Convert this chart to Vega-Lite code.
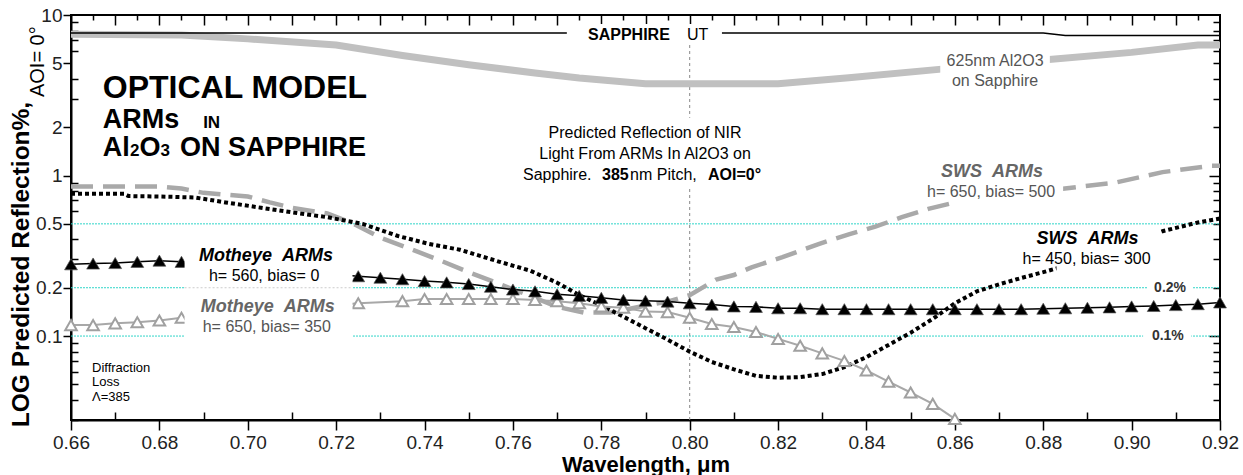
{
  "$schema": "https://vega.github.io/schema/vega-lite/v6.json",
  "width": 1149,
  "height": 405,
  "autosize": {"type": "none"},
  "padding": {"left": 71, "top": 15, "right": 23, "bottom": 55},
  "background": "white",
  "config": {
    "font": "Liberation Sans",
    "view": {"stroke": "black", "strokeWidth": 2},
    "axis": {
      "domainColor": "black", "domainWidth": 2, "tickColor": "black", "tickWidth": 1.5,
      "labelFont": "Liberation Sans", "labelFontSize": 19, "labelColor": "#222",
      "titleFont": "Liberation Sans", "titleFontWeight": "bold", "titleColor": "black",
      "grid": false, "labelOverlap": false, "labelFlush": false, "labelBound": false
    }
  },
  "datasets": {
    "hl": [{"wl": 0.66, "wl2": 0.92, "R": 0.5}, {"wl": 0.66, "wl2": 0.92, "R": 0.2}, {"wl": 0.66, "wl2": 0.92, "R": 0.1}],
    "vl": [{"wl": 0.8, "R": 0.03, "R2": 6.5}],
    "faint": [{"wl": 0.6857, "wl2": 0.7237, "R": 0.2}],
    "al2o3": [
      {"wl": 0.66, "R": 7.6}, {"wl": 0.685, "R": 7.5}, {"wl": 0.70, "R": 7.1}, {"wl": 0.72, "R": 6.5},
      {"wl": 0.735, "R": 5.6}, {"wl": 0.75, "R": 4.9}, {"wl": 0.765, "R": 4.35}, {"wl": 0.775, "R": 4.05},
      {"wl": 0.79, "R": 3.73}, {"wl": 0.82, "R": 3.73}, {"wl": 0.836, "R": 4.07}, {"wl": 0.857, "R": 4.6},
      {"wl": 0.88, "R": 5.25}, {"wl": 0.90, "R": 5.85}, {"wl": 0.915, "R": 6.5}, {"wl": 0.92, "R": 6.5}
    ],
    "sapphire": [{"wl": 0.66, "R": 7.73}, {"wl": 0.88, "R": 7.73}, {"wl": 0.885, "R": 7.45}, {"wl": 0.92, "R": 7.45}],
    "sws500": [
      {"wl": 0.66, "R": 0.855}, {"wl": 0.68, "R": 0.855}, {"wl": 0.685, "R": 0.83}, {"wl": 0.69, "R": 0.78},
      {"wl": 0.70, "R": 0.74}, {"wl": 0.705, "R": 0.68}, {"wl": 0.71, "R": 0.63}, {"wl": 0.718, "R": 0.58},
      {"wl": 0.724, "R": 0.50}, {"wl": 0.73, "R": 0.41}, {"wl": 0.736, "R": 0.356}, {"wl": 0.743, "R": 0.30},
      {"wl": 0.75, "R": 0.25}, {"wl": 0.756, "R": 0.216}, {"wl": 0.763, "R": 0.182}, {"wl": 0.77, "R": 0.152},
      {"wl": 0.776, "R": 0.14}, {"wl": 0.782, "R": 0.14}, {"wl": 0.784, "R": 0.143}, {"wl": 0.79, "R": 0.155},
      {"wl": 0.795, "R": 0.164}, {"wl": 0.80, "R": 0.18}, {"wl": 0.806, "R": 0.225}, {"wl": 0.81, "R": 0.24},
      {"wl": 0.814, "R": 0.268}, {"wl": 0.821, "R": 0.31}, {"wl": 0.829, "R": 0.373}, {"wl": 0.836, "R": 0.43},
      {"wl": 0.842, "R": 0.48}, {"wl": 0.848, "R": 0.55}, {"wl": 0.854, "R": 0.62}, {"wl": 0.86, "R": 0.68},
      {"wl": 0.87, "R": 0.75}, {"wl": 0.88, "R": 0.80}, {"wl": 0.888, "R": 0.85}, {"wl": 0.896, "R": 0.90},
      {"wl": 0.907, "R": 1.05}, {"wl": 0.918, "R": 1.15}, {"wl": 0.92, "R": 1.15}
    ],
    "sws300": [
      {"wl": 0.66, "R": 0.77}, {"wl": 0.672, "R": 0.77}, {"wl": 0.673, "R": 0.745}, {"wl": 0.68, "R": 0.74},
      {"wl": 0.688, "R": 0.73}, {"wl": 0.695, "R": 0.68}, {"wl": 0.703, "R": 0.63}, {"wl": 0.71, "R": 0.59},
      {"wl": 0.718, "R": 0.55}, {"wl": 0.726, "R": 0.50}, {"wl": 0.734, "R": 0.42}, {"wl": 0.741, "R": 0.375},
      {"wl": 0.748, "R": 0.345}, {"wl": 0.757, "R": 0.29}, {"wl": 0.764, "R": 0.255}, {"wl": 0.77, "R": 0.215},
      {"wl": 0.775, "R": 0.18}, {"wl": 0.78, "R": 0.155}, {"wl": 0.785, "R": 0.132}, {"wl": 0.79, "R": 0.112},
      {"wl": 0.795, "R": 0.095}, {"wl": 0.80, "R": 0.08}, {"wl": 0.805, "R": 0.069}, {"wl": 0.81, "R": 0.062},
      {"wl": 0.815, "R": 0.0565}, {"wl": 0.82, "R": 0.055}, {"wl": 0.825, "R": 0.0555}, {"wl": 0.83, "R": 0.058},
      {"wl": 0.835, "R": 0.064}, {"wl": 0.84, "R": 0.074}, {"wl": 0.845, "R": 0.088}, {"wl": 0.85, "R": 0.105},
      {"wl": 0.855, "R": 0.128}, {"wl": 0.86, "R": 0.16}, {"wl": 0.865, "R": 0.19}, {"wl": 0.87, "R": 0.21},
      {"wl": 0.875, "R": 0.23}, {"wl": 0.88, "R": 0.25}, {"wl": 0.89, "R": 0.30}, {"wl": 0.90, "R": 0.38},
      {"wl": 0.907, "R": 0.45}, {"wl": 0.915, "R": 0.51}, {"wl": 0.92, "R": 0.54}
    ],
    "moth0": [
      {"wl": 0.66, "R": 0.28}, {"wl": 0.665, "R": 0.283}, {"wl": 0.67, "R": 0.285}, {"wl": 0.675, "R": 0.29},
      {"wl": 0.68, "R": 0.295}, {"wl": 0.685, "R": 0.29}, {"wl": 0.725, "R": 0.236}, {"wl": 0.73, "R": 0.231},
      {"wl": 0.735, "R": 0.226}, {"wl": 0.74, "R": 0.22}, {"wl": 0.745, "R": 0.216}, {"wl": 0.75, "R": 0.211},
      {"wl": 0.755, "R": 0.203}, {"wl": 0.76, "R": 0.195}, {"wl": 0.765, "R": 0.19}, {"wl": 0.77, "R": 0.182},
      {"wl": 0.775, "R": 0.178}, {"wl": 0.78, "R": 0.173}, {"wl": 0.785, "R": 0.168}, {"wl": 0.79, "R": 0.166},
      {"wl": 0.795, "R": 0.164}, {"wl": 0.80, "R": 0.16}, {"wl": 0.805, "R": 0.157}, {"wl": 0.81, "R": 0.153},
      {"wl": 0.815, "R": 0.152}, {"wl": 0.82, "R": 0.149}, {"wl": 0.825, "R": 0.149}, {"wl": 0.83, "R": 0.147},
      {"wl": 0.835, "R": 0.147}, {"wl": 0.84, "R": 0.147}, {"wl": 0.845, "R": 0.147}, {"wl": 0.85, "R": 0.147},
      {"wl": 0.855, "R": 0.147}, {"wl": 0.86, "R": 0.147}, {"wl": 0.865, "R": 0.147}, {"wl": 0.87, "R": 0.147},
      {"wl": 0.875, "R": 0.147}, {"wl": 0.88, "R": 0.148}, {"wl": 0.885, "R": 0.149}, {"wl": 0.89, "R": 0.15},
      {"wl": 0.895, "R": 0.151}, {"wl": 0.90, "R": 0.153}, {"wl": 0.905, "R": 0.154}, {"wl": 0.91, "R": 0.156},
      {"wl": 0.915, "R": 0.158}, {"wl": 0.92, "R": 0.162}
    ],
    "moth350": [
      {"wl": 0.66, "R": 0.117}, {"wl": 0.665, "R": 0.117}, {"wl": 0.67, "R": 0.12}, {"wl": 0.675, "R": 0.122},
      {"wl": 0.68, "R": 0.125}, {"wl": 0.685, "R": 0.13}, {"wl": 0.725, "R": 0.16}, {"wl": 0.735, "R": 0.165},
      {"wl": 0.74, "R": 0.17}, {"wl": 0.745, "R": 0.17}, {"wl": 0.75, "R": 0.17}, {"wl": 0.755, "R": 0.17},
      {"wl": 0.76, "R": 0.17}, {"wl": 0.765, "R": 0.168}, {"wl": 0.77, "R": 0.165}, {"wl": 0.775, "R": 0.16},
      {"wl": 0.78, "R": 0.153}, {"wl": 0.785, "R": 0.15}, {"wl": 0.79, "R": 0.142}, {"wl": 0.795, "R": 0.141},
      {"wl": 0.80, "R": 0.13}, {"wl": 0.805, "R": 0.119}, {"wl": 0.81, "R": 0.114}, {"wl": 0.815, "R": 0.106},
      {"wl": 0.82, "R": 0.096}, {"wl": 0.825, "R": 0.087}, {"wl": 0.83, "R": 0.078}, {"wl": 0.835, "R": 0.07},
      {"wl": 0.84, "R": 0.061}, {"wl": 0.845, "R": 0.052}, {"wl": 0.85, "R": 0.0445}, {"wl": 0.855, "R": 0.0378},
      {"wl": 0.86, "R": 0.0305}
    ],
    "masks": [
      {"wl": 0.6857, "wl2": 0.7237, "R": 0.089, "R2": 0.40},
      {"wl": 0.7616, "wl2": 0.8166, "R": 0.855, "R2": 2.29},
      {"wl": 0.7722, "wl2": 0.8073, "R": 6.8, "R2": 8.79},
      {"wl": 0.8567, "wl2": 0.8815, "R": 3.18, "R2": 6.06},
      {"wl": 0.8605, "wl2": 0.8845, "R": 0.66, "R2": 1.29},
      {"wl": 0.883, "wl2": 0.9065, "R": 0.245, "R2": 0.46},
      {"wl": 0.9035, "wl2": 0.9139, "R": 0.19, "R2": 0.21},
      {"wl": 0.9026, "wl2": 0.9135, "R": 0.095, "R2": 0.105}
    ],
    "t32": [{"wl": 0.6672, "R": 3.05, "text": "OPTICAL MODEL"}],
    "t27": [
      {"wl": 0.6672, "R": 1.99, "text": "ARMs"}, {"wl": 0.6672, "R": 1.318, "text": "Al"},
      {"wl": 0.6755, "R": 1.318, "text": "O"}, {"wl": 0.68467, "R": 1.318, "text": "ON SAPPHIRE"}
    ],
    "t17": [
      {"wl": 0.6899, "R": 1.99, "text": "IN"}, {"wl": 0.67335, "R": 1.318, "text": "2"}, {"wl": 0.68025, "R": 1.318, "text": "3"}
    ],
    "mid16c": [
      {"wl": 0.7899, "R": 1.72, "text": "Predicted Reflection of NIR"},
      {"wl": 0.7899, "R": 1.275, "text": "Light From ARMs In Al2O3 on"}
    ],
    "mid16l": [
      {"wl": 0.76229, "R": 0.944, "text": "Sapphire."}, {"wl": 0.7865, "R": 0.944, "text": "nm Pitch,"},
      {"wl": 0.7994, "R": 6.99, "text": "UT"}
    ],
    "mid16b": [
      {"wl": 0.78016, "R": 0.944, "text": "385"}, {"wl": 0.80415, "R": 0.944, "text": "AOI=0°"},
      {"wl": 0.777, "R": 6.99, "text": "SAPPHIRE"}
    ],
    "grayLab": [
      {"wl": 0.8691, "R": 4.82, "text": "625nm Al2O3"}, {"wl": 0.8691, "R": 3.62, "text": "on Sapphire"},
      {"wl": 0.8682, "R": 0.73, "text": "h= 650, bias= 500"}, {"wl": 0.7043, "R": 0.106, "text": "h= 650, bias= 350"}
    ],
    "grayBI": [
      {"wl": 0.8684, "R": 0.986, "text": "SWS\u00a0\u00a0ARMs"}, {"wl": 0.7045, "R": 0.141, "text": "Motheye\u00a0\u00a0ARMs"}
    ],
    "blackBI": [
      {"wl": 0.89, "R": 0.373, "text": "SWS\u00a0\u00a0ARMs"}, {"wl": 0.7041, "R": 0.292, "text": "Motheye\u00a0\u00a0ARMs"}
    ],
    "blackLab": [
      {"wl": 0.8898, "R": 0.28, "text": "h= 450, bias= 300"}, {"wl": 0.7037, "R": 0.22, "text": "h= 560, bias= 0"}
    ],
    "pct": [{"wl": 0.9087, "R": 0.2, "text": "0.2%"}, {"wl": 0.9082, "R": 0.1, "text": "0.1%"}],
    "small": [
      {"wl": 0.66475, "R": 0.0598, "text": "Diffraction"}, {"wl": 0.66475, "R": 0.0489, "text": "Loss"},
      {"wl": 0.66475, "R": 0.0395, "text": "Λ=385"}
    ],
    "aoi": [{"wl": 0.65242, "R": 5.12, "text": "AOI= 0°"}]
  },
  "encoding": {
    "x": {"field": "wl", "type": "quantitative", "scale": {"domain": [0.66, 0.92], "nice": false, "zero": false}, "axis": null},
    "y": {"field": "R", "type": "quantitative", "scale": {"type": "log", "domain": [0.03, 10], "nice": false}, "axis": null}
  },
  "layer": [
    {
      "data": {"name": "hl"},
      "mark": {"type": "rule", "color": "#30d5c8", "strokeWidth": 1, "strokeDash": [2, 1]},
      "encoding": {
        "x": {"field": "wl", "type": "quantitative", "scale": {"domain": [0.66, 0.92], "nice": false, "zero": false},
          "axis": {"orient": "bottom",
            "values": [0.66,0.68,0.7,0.72,0.74,0.76,0.78,0.8,0.82,0.84,0.86,0.88,0.9,0.92],
            "format": ".2f", "tickSize": 10,
            "labelPadding": 3, "title": "Wavelength, μm", "titleFontSize": 22, "titlePadding": 2}},
        "x2": {"field": "wl2"},
        "y": {"field": "R", "type": "quantitative", "scale": {"type": "log", "domain": [0.03, 10], "nice": false},
          "axis": {"orient": "left",
            "values": [0.1,0.2,0.5,1,2,5,10],
            "labelExpr": "datum.value >= 1 ? format(datum.value,'d') : format(datum.value,'.1f')",
            "tickSize": 8,
            "labelPadding": 1, "title": "LOG Predicted Reflection%,", "titleFontSize": 24.5,
            "titleX": -43, "titleY": 249, "titleAngle": 270, "titleAlign": "center", "titleBaseline": "alphabetic"}}
      }
    },
    {
      "data": {"name": "vl"},
      "mark": {"type": "rule", "color": "#888", "strokeWidth": 1, "strokeDash": [3, 3]},
      "encoding": {
        "x": {"field": "wl", "type": "quantitative", "scale": {"domain": [0.66, 0.92], "nice": false, "zero": false},
          "axis": {"orient": "bottom", "values": [0.67,0.69,0.71,0.73,0.75,0.77,0.79,0.81,0.83,0.85,0.87,0.89,0.91],
            "labels": false, "title": null, "domain": false, "offset": -8, "tickSize": 8}},
        "y": {"field": "R", "type": "quantitative", "scale": {"type": "log", "domain": [0.03, 10], "nice": false},
          "axis": {"orient": "left", "values": [0.03,0.04,0.05,0.06,0.07,0.08,0.09,0.3,0.4,0.6,0.7,0.8,0.9,3,4,6,7,8,9],
            "labels": false, "title": null, "domain": false, "offset": -7, "tickSize": 7}},
        "y2": {"field": "R2"}
      }
    },
    {
      "data": {"name": "al2o3"},
      "mark": {"type": "line", "color": "#c0c0c0", "strokeWidth": 7, "strokeCap": "butt"},
      "encoding": {
        "x": {"field": "wl", "type": "quantitative", "scale": {"domain": [0.66, 0.92], "nice": false, "zero": false},
          "axis": {"orient": "top", "values": [0.67,0.68,0.69,0.7,0.71,0.72,0.73,0.74,0.75,0.76,0.77,0.78,0.79,0.8,0.81,0.82,0.83,0.84,0.85,0.86,0.87,0.88,0.89,0.9,0.91],
            "labels": false, "title": null, "domain": false, "offset": -10, "tickSize": 10}},
        "y": {"field": "R", "type": "quantitative", "scale": {"type": "log", "domain": [0.03, 10], "nice": false},
          "axis": {"orient": "right", "values": [0.1,1],
            "labels": false, "title": null, "domain": false, "offset": -11, "tickSize": 11}}
      }
    },
    {
      "data": {"name": "sapphire"},
      "mark": {"type": "line", "color": "black", "strokeWidth": 1.5},
      "encoding": {
        "x": {"field": "wl", "type": "quantitative", "scale": {"domain": [0.66, 0.92], "nice": false, "zero": false},
          "axis": {"orient": "top", "values": [0.665,0.675,0.685,0.695,0.705,0.715,0.725,0.735,0.745,0.755,0.765,0.775,0.785,0.795,0.805,0.815,0.825,0.835,0.845,0.855,0.865,0.875,0.885,0.895,0.905,0.915],
            "labels": false, "title": null, "domain": false, "offset": -5, "tickSize": 5}},
        "y": {"field": "R", "type": "quantitative", "scale": {"type": "log", "domain": [0.03, 10], "nice": false},
          "axis": {"orient": "right", "values": [0.04,0.05,0.06,0.07,0.08,0.09,0.2,0.3,0.4,0.5,0.6,0.7,0.8,0.9,2,3,4,5,6,7,8,9],
            "labels": false, "title": null, "domain": false, "offset": -7, "tickSize": 7}}
      }
    },
    {"data": {"name": "sws500"}, "mark": {"type": "line", "color": "#a9a9a9", "strokeWidth": 4.5, "strokeDash": [22, 10]}},
    {"data": {"name": "sws300"}, "mark": {"type": "line", "color": "black", "strokeWidth": 4, "strokeDash": [4, 3]}},
    {"data": {"name": "moth350"}, "mark": {"type": "line", "color": "#a8a8a8", "strokeWidth": 2}},
    {"data": {"name": "moth350"}, "mark": {"type": "point", "shape": "triangle-up", "filled": true, "fill": "white", "stroke": "#a0a0a0", "strokeWidth": 2, "size": 135, "opacity": 1}},
    {"data": {"name": "moth0"}, "mark": {"type": "line", "color": "black", "strokeWidth": 1.5}},
    {"data": {"name": "moth0"}, "mark": {"type": "point", "shape": "triangle-up", "filled": true, "fill": "black", "stroke": "#555", "strokeWidth": 0.7, "size": 165, "opacity": 1}},
    {"data": {"name": "masks"}, "mark": {"type": "rect", "fill": "white", "strokeWidth": 0}, "encoding": {"x2": {"field": "wl2"}, "y2": {"field": "R2"}}},
    {"data": {"name": "faint"}, "mark": {"type": "rule", "color": "#cccccc", "strokeWidth": 1, "strokeDash": [2, 2]}, "encoding": {"x2": {"field": "wl2"}}},
    {"data": {"name": "t32"}, "mark": {"type": "text", "fontSize": 32, "fontWeight": "bold", "align": "left", "baseline": "alphabetic", "color": "black"}, "encoding": {"text": {"field": "text"}}},
    {"data": {"name": "t27"}, "mark": {"type": "text", "fontSize": 27, "fontWeight": "bold", "align": "left", "baseline": "alphabetic", "color": "black"}, "encoding": {"text": {"field": "text"}}},
    {"data": {"name": "t17"}, "mark": {"type": "text", "fontSize": 17, "fontWeight": "bold", "align": "left", "baseline": "alphabetic", "color": "black"}, "encoding": {"text": {"field": "text"}}},
    {"data": {"name": "mid16c"}, "mark": {"type": "text", "fontSize": 16, "align": "center", "baseline": "alphabetic", "color": "black"}, "encoding": {"text": {"field": "text"}}},
    {"data": {"name": "mid16l"}, "mark": {"type": "text", "fontSize": 16, "align": "left", "baseline": "alphabetic", "color": "black"}, "encoding": {"text": {"field": "text"}}},
    {"data": {"name": "mid16b"}, "mark": {"type": "text", "fontSize": 16, "fontWeight": "bold", "align": "left", "baseline": "alphabetic", "color": "black"}, "encoding": {"text": {"field": "text"}}},
    {"data": {"name": "grayLab"}, "mark": {"type": "text", "fontSize": 16, "align": "center", "baseline": "alphabetic", "color": "#555"}, "encoding": {"text": {"field": "text"}}},
    {"data": {"name": "grayBI"}, "mark": {"type": "text", "fontSize": 18, "fontWeight": "bold", "fontStyle": "italic", "align": "center", "baseline": "alphabetic", "color": "#666"}, "encoding": {"text": {"field": "text"}}},
    {"data": {"name": "blackBI"}, "mark": {"type": "text", "fontSize": 18, "fontWeight": "bold", "fontStyle": "italic", "align": "center", "baseline": "alphabetic", "color": "black"}, "encoding": {"text": {"field": "text"}}},
    {"data": {"name": "blackLab"}, "mark": {"type": "text", "fontSize": 16, "align": "center", "baseline": "alphabetic", "color": "black"}, "encoding": {"text": {"field": "text"}}},
    {"data": {"name": "pct"}, "mark": {"type": "text", "fontSize": 14, "fontWeight": "bold", "align": "center", "baseline": "middle", "color": "#333"}, "encoding": {"text": {"field": "text"}}},
    {"data": {"name": "small"}, "mark": {"type": "text", "fontSize": 13, "align": "left", "baseline": "alphabetic", "color": "black"}, "encoding": {"text": {"field": "text"}}},
    {"data": {"name": "aoi"}, "mark": {"type": "text", "fontSize": 20, "angle": 270, "align": "center", "baseline": "middle", "color": "black"}, "encoding": {"text": {"field": "text"}}}
  ],
  "resolve": {"scale": {"x": "independent", "y": "independent"}, "axis": {"x": "independent", "y": "independent"}}
}
